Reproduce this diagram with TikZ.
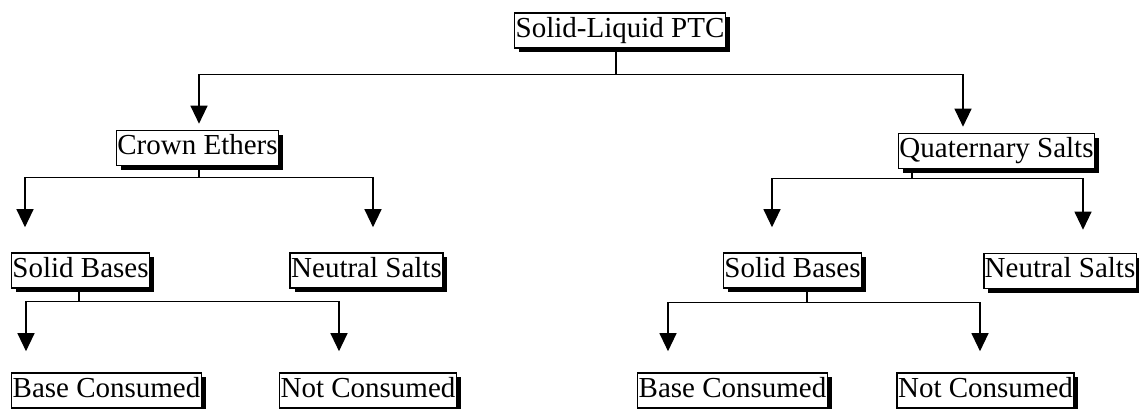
\documentclass[tikz,border=0pt]{standalone}
\usepackage{fontspec}
\setmainfont{Liberation Serif}
\usetikzlibrary{arrows.meta,shadows}

\begin{document}
\begin{tikzpicture}[
      x = 1pt, y = 1pt,
      box/.style = {draw, rectangle, fill = white, line width = 1.6pt,
            inner xsep = 1pt, inner ysep = 3.5pt, text height = 21pt, text depth = 7pt,
            font = \fontsize{29}{29}\selectfont,
            drop shadow = {shadow xshift = 4.5pt, shadow yshift = -4.5pt, fill = black, opacity = 1}},
      link/.style = {line width = 1.2pt},
      arr/.style = {line width = 1.2pt, -{Triangle[length = 18pt, width = 17pt]}}
      ]
      \useasboundingbox (0,0) rectangle (1139,409);
      % nodes
      \node[box] (root)  at (620,378.5) {Solid-Liquid PTC};
      \node[box] (crown) at (197.5,261) {Crown Ethers};
      \node[box] (quat)  at (996.5,258) {Quaternary Salts};
      \node[box] (csb)   at (80.5,138.5) {Solid Bases};
      \node[box] (cns)   at (366.5,138.5) {Neutral Salts};
      \node[box] (qsb)   at (792.5,138.5) {Solid Bases};
      \node[box] (qns)   at (1060,138) {Neutral Salts};
      \node[box] (cbc)   at (106.5,18.5) {Base Consumed};
      \node[box] (cnc)   at (368,18.5) {Not Consumed};
      \node[box] (qbc)   at (732.5,18.5) {Base Consumed};
      \node[box] (qnc)   at (985.5,18.5) {Not Consumed};
      % connectors
      \draw[link] ([xshift=-4pt]root.south) -- ++(0,-26) coordinate (b0);
      \draw[arr, shorten > = 6pt] (b0) -| ([xshift=1.5pt]crown.north);
      \draw[arr, shorten > = 6pt] (b0) -| ([xshift=-33.5pt]quat.north);
      \draw[link] ([xshift=1.5pt]crown.south) -- ++(0,-11.5) coordinate (b1);
      \draw[arr, shorten > = 25pt] (b1) -| ([xshift=-55.5pt]csb.north);
      \draw[arr, shorten > = 25pt] (b1) -| ([xshift=6.5pt]cns.north);
      \draw[link] ([xshift=-84.5pt]quat.south) -- ++(0,-9.5) coordinate (b2);
      \draw[arr, shorten > = 25pt] (b2) -| ([xshift=-20.5pt]qsb.north);
      \draw[arr, shorten > = 23pt] (b2) -| ([xshift=23pt]qns.north);
      \draw[link] ([xshift=-1.5pt]csb.south) -- ++(0,-13) coordinate (b3);
      \draw[arr, shorten > = 21pt] (b3) -| ([xshift=-80.5pt]cbc.north);
      \draw[arr, shorten > = 21pt] (b3) -| ([xshift=-29pt]cnc.north);
      \draw[link] ([xshift=14.5pt]qsb.south) -- ++(0,-14) coordinate (b4);
      \draw[arr, shorten > = 21pt] (b4) -| ([xshift=-64.5pt]qbc.north);
      \draw[arr, shorten > = 21pt] (b4) -| ([xshift=-5.5pt]qnc.north);
\end{tikzpicture}
\end{document}
